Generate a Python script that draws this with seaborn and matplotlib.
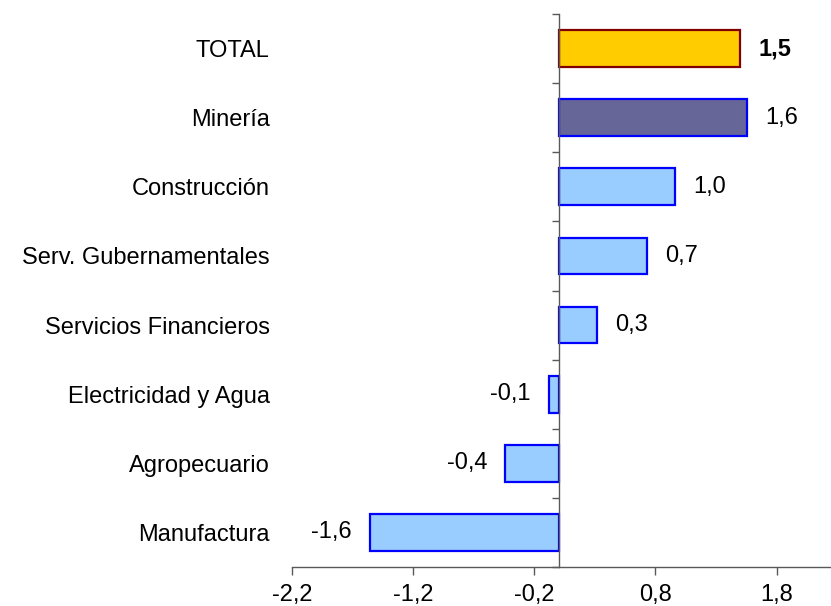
import matplotlib
matplotlib.use("Agg")
import matplotlib.pyplot as plt
import seaborn as sns
import numpy as np
from matplotlib.ticker import FixedLocator, FuncFormatter

categories = ["TOTAL", "Minería", "Construcción", "Serv. Gubernamentales",
              "Servicios Financieros", "Electricidad y Agua", "Agropecuario", "Manufactura"]
values = [1.50, 1.56, 0.96, 0.73, 0.32, -0.08, -0.44, -1.56]
fill_colors = ["#FFCC00", "#666699", "#99CCFF", "#99CCFF", "#99CCFF", "#99CCFF", "#99CCFF", "#99CCFF"]
edge_colors = ["#800000", "#0000FF", "#0000FF", "#0000FF", "#0000FF", "#0000FF", "#0000FF", "#0000FF"]
xticks = [-2.2, -1.2, -0.2, 0.8, 1.8]

sns.set_theme(style="white")
plt.rcParams['font.family'] = ['Liberation Sans', 'DejaVu Sans']

fig = plt.figure(figsize=(8.31, 6.06), dpi=100)
ax = fig.add_axes([292.3 / 831, 1 - 567 / 606, 1 - 292.3 / 831, (567 - 14) / 606])

sns.barplot(x=values, y=categories, hue=categories, palette=fill_colors,
            legend=False, width=0.53, orient="h", ax=ax, saturation=1)

for patch, ec in zip(ax.patches, edge_colors):
    patch.set_edgecolor(ec)
    patch.set_linewidth(1.6)

ax.set_xlim(-2.2, 2.25)
ax.set_ylim(len(categories) - 0.5, -0.5)

axis_col = "#595959"
for s in ["top", "right"]:
    ax.spines[s].set_visible(False)
ax.spines["left"].set_position(("data", 0))
ax.spines["left"].set_color(axis_col)
ax.spines["bottom"].set_color(axis_col)
ax.spines["left"].set_linewidth(1.0)
ax.spines["bottom"].set_linewidth(1.0)

fs = 17
ax.xaxis.set_major_locator(FixedLocator(xticks))
ax.xaxis.set_major_formatter(FuncFormatter(lambda v, p: f"{v:.1f}".replace(".", ",")))
ax.tick_params(axis="x", which="major", direction="out", length=6, width=1,
               color=axis_col, labelsize=fs, pad=6, bottom=True, labelcolor="black")

ax.yaxis.set_minor_locator(FixedLocator(np.arange(-0.5, len(categories), 1.0)))
ax.tick_params(axis="y", which="minor", direction="out", length=5, width=1,
               color=axis_col, left=True)
ax.tick_params(axis="y", which="major", length=0, pad=208, labelsize=fs, labelcolor="black")
ax.set_xlabel("")
ax.set_ylabel("")

for i, v in enumerate(values):
    txt = f"{v:.1f}".replace(".", ",")
    off = 13 if v >= 0 else -13
    ax.annotate(txt, xy=(v, i), xytext=(off, 0), textcoords="offset points",
                ha="left" if v >= 0 else "right", va="center", fontsize=fs,
                fontweight="bold" if i == 0 else "normal", color="black")

fig.savefig("out.png", dpi=100)
